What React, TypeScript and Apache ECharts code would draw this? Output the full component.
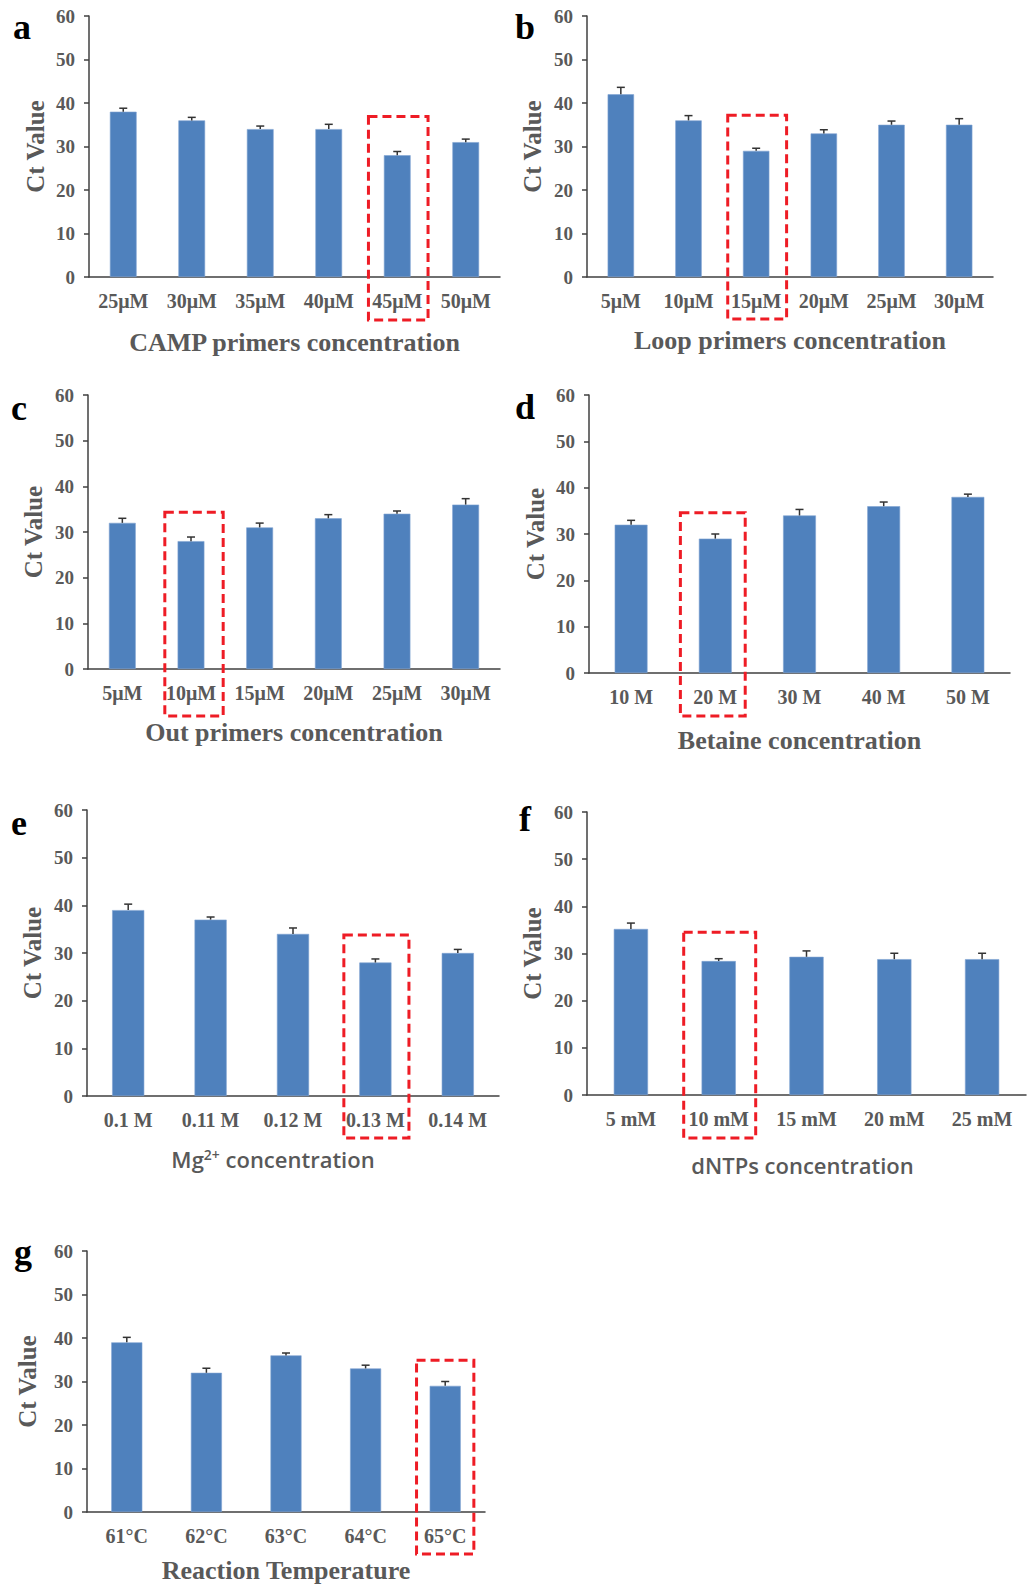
import React, { useEffect, useRef } from "react";
import * as echarts from "echarts";

// ---------- data ----------
const yTicks = [0, 10, 20, 30, 40, 50, 60];

const catA = ["25μM", "30μM", "35μM", "40μM", "45μM", "50μM"];
const valA = [38, 36, 34, 34, 28, 31];
const errA = [0.8, 0.7, 0.7, 1.1, 0.85, 0.7];
const hiA = 4;

const catB = ["5μM", "10μM", "15μM", "20μM", "25μM", "30μM"];
const valB = [42, 36, 29, 33, 35, 35];
const errB = [1.6, 1.1, 0.6, 0.85, 0.85, 1.4];
const hiB = 2;

const catC = ["5μM", "10μM", "15μM", "20μM", "25μM", "30μM"];
const valC = [32, 28, 31, 33, 34, 36];
const errC = [1.0, 0.9, 0.95, 0.8, 0.6, 1.3];
const hiC = 1;

const catD = ["10 M", "20 M", "30 M", "40 M", "50 M"];
const valD = [32, 29, 34, 36, 38];
const errD = [0.95, 1.0, 1.3, 0.9, 0.6];
const hiD = 1;

const catE = ["0.1 M", "0.11 M", "0.12 M", "0.13 M", "0.14 M"];
const valE = [39, 37, 34, 28, 30];
const errE = [1.25, 0.55, 1.25, 0.75, 0.75];
const hiE = 3;

const catF = ["5 mM", "10 mM", "15 mM", "20 mM", "25 mM"];
const valF = [35.2, 28.4, 29.3, 28.8, 28.8];
const errF = [1.25, 0.5, 1.25, 1.25, 1.25];
const hiF = 1;

const catG = ["61°C", "62°C", "63°C", "64°C", "65°C"];
const valG = [39, 32, 36, 33, 29];
const errG = [1.15, 1.05, 0.55, 0.75, 1.0];
const hiG = 4;

// ---------- layout / style ----------
const SERIF = "'Liberation Serif', 'Times New Roman', serif";
const SANS = "'Open Sans', 'Noto Sans', sans-serif";
const BAR = "#4F81BD";
const TXT = "#595959";
const AXIS = "#404040";

type Panel = {
  letter: string;
  cats: string[];
  vals: number[];
  errs: number[];
  hi: number;
  title: string;
  sans?: boolean;
  grid: { left: number; top: number; width: number; height: number };
  letterPos: [number, number];
  nameGap: number;
  yNameGap: number;
  titleShift?: number;
  box: { top: number; below: number; frac: number; dx: number };
};

const panels: Panel[] = [
  {
    letter: "a", cats: catA, vals: valA, errs: errA, hi: hiA,
    title: "CAMP primers concentration",
    grid: { left: 89, top: 16, width: 411, height: 261 },
    letterPos: [22, 27], nameGap: 52, yNameGap: 41,
    box: { top: 36.9, below: 43, frac: 0.87, dx: 1 },
  },
  {
    letter: "b", cats: catB, vals: valB, errs: errB, hi: hiB,
    title: "Loop primers concentration",
    grid: { left: 587, top: 16, width: 406, height: 261 },
    letterPos: [525, 27], nameGap: 50, yNameGap: 42,
    box: { top: 37.2, below: 42, frac: 0.87, dx: 1 },
  },
  {
    letter: "c", cats: catC, vals: valC, errs: errC, hi: hiC,
    title: "Out primers concentration",
    grid: { left: 88, top: 395, width: 412, height: 274 },
    letterPos: [19, 408], nameGap: 50, yNameGap: 42,
    box: { top: 34.3, below: 47, frac: 0.85, dx: 3 },
  },
  {
    letter: "d", cats: catD, vals: valD, errs: errD, hi: hiD,
    title: "Betaine concentration",
    grid: { left: 589, top: 395, width: 421, height: 278 },
    letterPos: [525, 407], nameGap: 54, yNameGap: 41,
    box: { top: 34.6, below: 43, frac: 0.77, dx: -2.5 },
  },
  {
    letter: "e", cats: catE, vals: valE, errs: errE, hi: hiE,
    title: "{n|Mg}{s|2+}{n| concentration}", sans: true,
    grid: { left: 87, top: 810, width: 412, height: 286 },
    letterPos: [19, 823], nameGap: 51, yNameGap: 42, titleShift: 40,
    box: { top: 33.8, below: 42, frac: 0.79, dx: 1 },
  },
  {
    letter: "f", cats: catF, vals: valF, errs: errF, hi: hiF,
    title: "dNTPs concentration", sans: true,
    grid: { left: 587, top: 812, width: 439, height: 283 },
    letterPos: [525, 819], nameGap: 59, yNameGap: 42, titleShift: 8,
    box: { top: 34.5, below: 43, frac: 0.82, dx: 1 },
  },
  {
    letter: "g", cats: catG, vals: valG, errs: errG, hi: hiG,
    title: "Reaction Temperature",
    grid: { left: 87, top: 1251, width: 398, height: 261 },
    letterPos: [23, 1252], nameGap: 45, yNameGap: 47,
    box: { top: 34.9, below: 42, frac: 0.72, dx: 0 },
  },
];

function buildOption() {
  const grid: any[] = [];
  const xAxis: any[] = [];
  const yAxis: any[] = [];
  const series: any[] = [];
  const graphic: any[] = [];

  panels.forEach((p, i) => {
    grid.push({ ...p.grid, containLabel: false });
    const nameStyle: any = p.sans
      ? {
          fontFamily: SANS, fontSize: 22, fontWeight: 600, color: TXT,
          rich: {
            n: { fontFamily: SANS, fontSize: 22, fontWeight: 600, color: TXT },
            s: { fontFamily: SANS, fontSize: 14, fontWeight: 600, color: TXT, verticalAlign: "top", padding: [0, 0, 10, 0] },
          },
        }
      : { fontFamily: SERIF, fontSize: 26, fontWeight: "bold", color: TXT };
    if (p.titleShift) nameStyle.padding = [0, p.titleShift, 0, 0];
    xAxis.push({
      type: "category",
      gridIndex: i,
      data: p.cats,
      name: p.title,
      nameLocation: "middle",
      nameGap: p.nameGap,
      nameTextStyle: nameStyle,
      axisLine: { show: true, lineStyle: { color: AXIS, width: 1.5 } },
      axisTick: { show: false },
      axisLabel: {
        interval: 0, margin: 14, fontFamily: SERIF, fontWeight: "bold",
        fontSize: 20, color: TXT,
      },
      splitLine: { show: false },
    });
    yAxis.push({
      type: "value",
      gridIndex: i,
      min: yTicks[0],
      max: yTicks[yTicks.length - 1],
      interval: yTicks[1] - yTicks[0],
      name: "Ct Value",
      nameLocation: "middle",
      nameGap: p.yNameGap,
      nameTextStyle: { fontFamily: SERIF, fontSize: 25, fontWeight: "bold", color: TXT },
      axisLine: { show: true, lineStyle: { color: AXIS, width: 1.5 } },
      axisTick: { show: true, length: 5, lineStyle: { color: AXIS, width: 1.5 } },
      axisLabel: { margin: 14, fontFamily: SERIF, fontWeight: "bold", fontSize: 19, color: TXT },
      splitLine: { show: false },
    });
    series.push({
      type: "bar",
      xAxisIndex: i,
      yAxisIndex: i,
      data: p.vals,
      barWidth: "39%",
      itemStyle: { color: BAR, borderColor: "#7fa3d1", borderWidth: 0.6 },
      z: 2,
    });
    series.push({
      type: "custom",
      xAxisIndex: i,
      yAxisIndex: i,
      data: p.vals.map((v, k) => [k, v, p.errs[k]]),
      encode: { x: 0, y: 1 },
      z: 3,
      renderItem: (_params: any, api: any) => {
        const k = api.value(0);
        const v = api.value(1);
        const e = api.value(2);
        const base = api.coord([k, v]);
        const top = api.coord([k, v + e]);
        const st = { stroke: "#333333", lineWidth: 1.5 };
        return {
          type: "group",
          children: [
            { type: "line", shape: { x1: base[0], y1: base[1], x2: top[0], y2: top[1] }, style: st },
            { type: "line", shape: { x1: top[0] - 4, y1: top[1], x2: top[0] + 4, y2: top[1] }, style: st },
          ],
        };
      },
    });
    const b = p.box;
    series.push({
      type: "custom",
      xAxisIndex: i,
      yAxisIndex: i,
      clip: false,
      data: [[p.hi, b.top]],
      encode: { x: 0, y: 1 },
      z: 5,
      renderItem: (_params: any, api: any) => {
        const k = api.value(0);
        const t = api.value(1);
        const c = api.coord([k, t]);
        const z = api.coord([k, 0]);
        const w = api.size([1, 0])[0] * b.frac;
        return {
          type: "rect",
          shape: { x: c[0] - w / 2 + b.dx, y: c[1], width: w, height: z[1] + b.below - c[1] },
          style: { fill: "none", stroke: "#ee1c25", lineWidth: 3, lineDash: [9, 5] },
        };
      },
    });
    graphic.push({
      type: "text",
      x: p.letterPos[0],
      y: p.letterPos[1],
      style: {
        text: p.letter,
        font: `bold 36px ${SERIF}`,
        fill: "#000000",
        textAlign: "center",
        textVerticalAlign: "middle",
      },
    });
  });

  return {
    animation: false,
    backgroundColor: "#ffffff",
    grid,
    xAxis,
    yAxis,
    series,
    graphic,
  };
}

export default function App() {
  const ref = useRef<HTMLDivElement>(null);
  useEffect(() => {
    if (!ref.current) return;
    const chart = echarts.init(ref.current, null, { renderer: "svg" });
    chart.setOption(buildOption() as any);
    return () => chart.dispose();
  }, []);
  return (
    <div
      ref={ref}
      style={{ position: "absolute", left: 0, top: 0, width: 1027, height: 1584, background: "#fff" }}
    />
  );
}
